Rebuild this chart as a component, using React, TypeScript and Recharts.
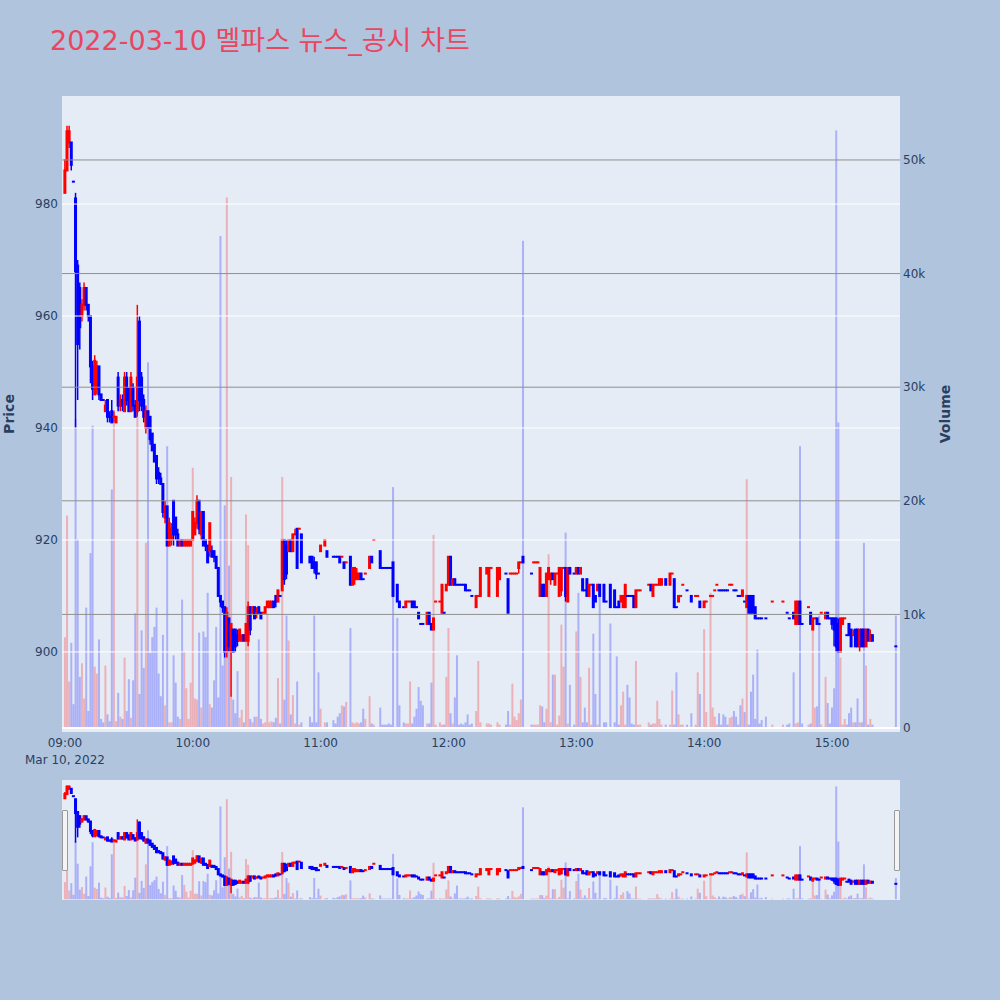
import React from 'react';
import { ComposedChart, Bar, XAxis, YAxis, ReferenceLine, Cell } from 'recharts';

// minutes after 09:00 (one candle per traded minute)
const minute = [
  0, 1, 2, 3, 4, 5, 6, 7, 8, 9,
  10, 11, 12, 13, 14, 15, 16, 17, 18, 19,
  20, 21, 22, 23, 24, 25, 26, 27, 28, 29,
  30, 31, 32, 33, 34, 35, 36, 37, 38, 39,
  40, 41, 42, 43, 44, 45, 46, 47, 48, 49,
  50, 51, 52, 53, 54, 55, 56, 57, 58, 59,
  60, 61, 62, 63, 64, 65, 66, 67, 68, 69,
  70, 71, 72, 73, 74, 75, 76, 77, 78, 79,
  80, 81, 82, 83, 84, 85, 86, 87, 88, 89,
  90, 91, 92, 93, 94, 95, 96, 97, 98, 99,
  100, 101, 102, 103, 104, 105, 106, 107, 108, 109,
  110, 111, 115, 116, 117, 118, 119, 120, 122, 123,
  126, 127, 128, 129, 130, 131, 132, 134, 135, 136,
  137, 138, 139, 140, 141, 143, 144, 145, 148, 149,
  150, 151, 152, 153, 154, 156, 157, 159, 160, 161,
  162, 163, 164, 165, 166, 167, 168, 170, 171, 172,
  173, 174, 176, 177, 178, 179, 180, 181, 182, 183,
  184, 185, 186, 187, 188, 189, 190, 191, 193, 194,
  195, 198, 199, 200, 203, 204, 207, 208, 209, 210,
  211, 212, 213, 214, 215, 219, 220, 221, 222, 223,
  224, 225, 226, 227, 228, 229, 230, 231, 232, 233,
  234, 235, 236, 237, 239, 240, 241, 242, 243, 244,
  245, 246, 247, 248, 249, 250, 251, 253, 254, 256,
  258, 259, 260, 261, 262, 263, 264, 265, 266, 267,
  268, 269, 270, 274, 275, 276, 277, 278, 279, 280,
  282, 284, 285, 286, 287, 288, 289, 290, 292, 294,
  296, 297, 298, 300, 301, 303, 304, 305, 306, 307,
  308, 309, 310, 311, 312, 313, 314, 315, 316, 317,
  318, 319, 320, 321, 322, 323, 324, 325, 326, 327,
  329, 332, 337, 339, 340, 342, 343, 344, 345, 346,
  349, 350, 351, 352, 353, 354, 355, 357, 358, 359,
  360, 361, 362, 363, 364, 365, 366, 367, 368, 369,
  370, 371, 372, 373, 374, 375, 376, 377, 378, 379, 390,
];

const open = [
  982, 986, 991, 991, 984, 981, 969, 965, 960, 962,
  965, 962, 960, 951, 946, 947, 951, 946, 945, 943,
  945, 942, 943, 942, 941, 949, 944, 945, 943, 949,
  947, 943, 947, 944, 943, 959, 949, 945, 940, 943,
  942, 939, 937, 935, 932, 931, 930, 924, 926, 919,
  920, 927, 924, 921, 919, 920, 919, 919, 919, 919,
  920, 921, 923, 927, 921, 925, 920, 919, 918, 918,
  918, 917, 915, 910, 909, 908, 900, 906, 900, 904,
  904, 903, 902, 902, 903, 902, 902, 908, 907, 908,
  907, 908, 907, 907, 907, 908, 908, 908, 909, 910,
  909, 910, 911, 920, 919, 918, 920, 918, 921, 922,
  922, 921, 917, 917, 916, 916, 914, 918, 919, 918,
  917, 917, 917, 917, 917, 916, 916, 917, 912, 913,
  913, 913, 914, 913, 914, 915, 917, 920, 918, 915,
  915, 915, 915, 915, 916, 912, 909, 908, 908, 909,
  909, 909, 909, 908, 907, 905, 905, 905, 907, 905,
  904, 909, 909, 907, 907, 911, 912, 917, 912, 913,
  912, 912, 912, 912, 912, 911, 911, 910, 908, 910,
  910, 914, 910, 915, 910, 913, 914, 913, 914, 914,
  914, 914, 915, 916, 917, 914, 916, 916, 916, 910,
  912, 912, 910, 913, 913, 914, 912, 914, 910, 911,
  915, 915, 909, 915, 914, 914, 915, 914, 913, 911,
  913, 910, 912, 912, 910, 911, 912, 912, 909, 912,
  911, 908, 909, 909, 908, 908, 910, 910, 910, 910,
  908, 911, 911, 912, 912, 910, 912, 912, 912, 912,
  913, 912, 914, 913, 908, 909, 910, 912, 911, 910,
  910, 910, 909, 908, 909, 910, 910, 911, 912, 911,
  911, 911, 911, 911, 912, 912, 911, 911, 910, 910,
  910, 909, 908, 910, 910, 910, 908, 906, 906, 906,
  906, 909, 909, 907, 906, 907, 905, 905, 909, 905,
  908, 907, 904, 906, 906, 905, 907, 906, 907, 906,
  906, 906, 906, 905, 900, 905, 906, 903, 905, 904,
  903, 904, 904, 901, 904, 904, 901, 904, 902, 903, 901,
];

const high = [
  988, 994, 994, 991, 984, 982, 970, 966, 963, 966,
  965, 962, 960, 952, 953, 952, 951, 946, 945, 945,
  945, 943, 945, 943, 942, 950, 946, 946, 950, 950,
  947, 950, 948, 945, 962, 960, 950, 946, 944, 943,
  942, 939, 937, 935, 933, 932, 930, 927, 926, 924,
  923, 927, 924, 922, 920, 920, 920, 920, 920, 920,
  925, 924, 928, 927, 925, 925, 920, 919, 923, 919,
  918, 917, 915, 910, 909, 908, 908, 906, 905, 904,
  904, 904, 904, 903, 903, 905, 909, 908, 908, 908,
  908, 908, 907, 907, 908, 909, 909, 909, 909, 910,
  911, 910, 920, 920, 920, 920, 920, 921, 922, 922,
  922, 921, 917, 917, 917, 916, 914, 919, 920, 918,
  917, 917, 917, 917, 917, 916, 916, 917, 915, 915,
  915, 914, 914, 913, 914, 917, 917, 920, 918, 915,
  915, 915, 915, 915, 916, 912, 909, 908, 909, 909,
  909, 909, 909, 908, 907, 905, 905, 907, 907, 905,
  906, 909, 909, 912, 907, 912, 917, 917, 913, 913,
  912, 912, 912, 912, 912, 911, 911, 910, 910, 910,
  915, 915, 915, 915, 915, 915, 914, 913, 914, 914,
  914, 914, 916, 916, 917, 914, 916, 916, 916, 915,
  912, 912, 914, 915, 914, 914, 914, 914, 915, 915,
  915, 915, 915, 915, 914, 915, 915, 915, 913, 911,
  913, 912, 912, 912, 910, 912, 912, 912, 909, 912,
  911, 908, 909, 910, 910, 912, 910, 910, 910, 910,
  911, 911, 911, 912, 912, 912, 912, 912, 913, 913,
  913, 914, 914, 913, 908, 910, 910, 912, 911, 910,
  910, 910, 909, 909, 909, 910, 910, 911, 912, 911,
  911, 911, 911, 911, 912, 912, 911, 911, 910, 910,
  911, 909, 910, 910, 910, 910, 908, 906, 906, 906,
  906, 909, 909, 907, 906, 907, 909, 909, 909, 905,
  908, 907, 906, 906, 906, 905, 907, 907, 907, 906,
  906, 906, 906, 906, 906, 906, 906, 903, 905, 904,
  904, 904, 904, 904, 904, 904, 904, 904, 904, 903, 901,
];

const low = [
  982, 986, 990, 986, 984, 940, 945, 954, 959, 961,
  961, 959, 948, 945, 946, 946, 945, 945, 945, 943,
  941, 941, 941, 941, 941, 943, 943, 943, 943, 944,
  943, 943, 943, 942, 942, 943, 943, 941, 939, 940,
  937, 936, 934, 930, 930, 930, 924, 923, 919, 919,
  919, 919, 920, 919, 919, 919, 919, 919, 919, 919,
  920, 921, 922, 921, 920, 919, 918, 916, 917, 917,
  916, 915, 910, 908, 907, 899, 899, 900, 892, 900,
  900, 901, 902, 902, 902, 902, 901, 903, 907, 906,
  906, 907, 906, 907, 907, 908, 908, 908, 908, 908,
  909, 910, 911, 912, 913, 918, 918, 918, 921, 915,
  922, 916, 916, 915, 914, 913, 914, 918, 919, 917,
  917, 917, 917, 916, 917, 915, 916, 912, 912, 912,
  913, 913, 913, 913, 914, 915, 916, 920, 915, 915,
  915, 915, 915, 915, 910, 909, 908, 908, 908, 909,
  909, 908, 908, 908, 906, 905, 905, 905, 905, 904,
  904, 909, 909, 907, 907, 911, 912, 912, 912, 912,
  912, 912, 912, 912, 911, 911, 911, 910, 908, 910,
  910, 914, 910, 915, 910, 913, 914, 907, 914, 914,
  914, 914, 914, 916, 916, 914, 916, 916, 916, 910,
  910, 910, 910, 913, 912, 913, 912, 914, 910, 910,
  915, 909, 909, 914, 914, 914, 914, 914, 911, 911,
  910, 910, 912, 908, 909, 911, 910, 909, 909, 908,
  908, 908, 908, 909, 908, 908, 910, 910, 910, 908,
  908, 911, 911, 912, 911, 910, 912, 912, 912, 912,
  912, 912, 914, 908, 908, 909, 910, 912, 911, 909,
  910, 910, 908, 908, 909, 910, 910, 911, 912, 911,
  911, 911, 911, 911, 912, 912, 911, 911, 910, 910,
  910, 909, 908, 907, 907, 907, 906, 906, 906, 906,
  906, 909, 909, 907, 906, 906, 905, 905, 905, 905,
  908, 905, 904, 906, 905, 905, 907, 906, 906, 906,
  904, 901, 900, 900, 900, 905, 906, 903, 903, 901,
  903, 901, 901, 900, 901, 901, 901, 902, 902, 902, 901,
];

const close = [
  986, 993, 993, 987, 984, 968, 955, 958, 962, 965,
  962, 960, 951, 947, 952, 951, 946, 945, 945, 944,
  942, 942, 941, 942, 942, 944, 945, 944, 949, 945,
  943, 949, 944, 942, 949, 945, 944, 942, 943, 940,
  938, 936, 934, 931, 931, 930, 925, 926, 919, 923,
  922, 921, 921, 919, 920, 919, 920, 920, 920, 920,
  925, 923, 927, 922, 925, 919, 919, 916, 923, 917,
  917, 915, 910, 909, 908, 900, 907, 901, 905, 900,
  901, 902, 904, 903, 902, 905, 908, 904, 908, 906,
  907, 907, 906, 907, 908, 909, 909, 909, 908, 909,
  911, 910, 920, 913, 914, 920, 918, 921, 921, 915,
  922, 916, 916, 915, 915, 914, 914, 919, 920, 917,
  917, 917, 917, 916, 917, 915, 916, 912, 915, 915,
  914, 914, 913, 913, 914, 917, 916, 920, 915, 915,
  915, 915, 915, 915, 910, 909, 908, 908, 909, 909,
  909, 908, 908, 908, 906, 905, 905, 907, 905, 904,
  906, 909, 909, 912, 907, 912, 917, 912, 913, 912,
  912, 912, 912, 912, 911, 911, 911, 910, 910, 910,
  915, 915, 915, 915, 915, 915, 914, 907, 914, 914,
  914, 914, 916, 916, 916, 914, 916, 916, 916, 915,
  910, 910, 914, 915, 914, 913, 914, 914, 915, 915,
  915, 910, 915, 914, 914, 915, 914, 915, 911, 911,
  910, 912, 912, 908, 909, 912, 910, 909, 909, 908,
  908, 908, 908, 910, 910, 912, 910, 910, 910, 908,
  911, 911, 911, 912, 911, 912, 912, 912, 913, 913,
  912, 914, 914, 908, 908, 910, 910, 912, 911, 909,
  910, 910, 908, 909, 909, 910, 910, 911, 912, 911,
  911, 911, 911, 911, 912, 912, 911, 911, 910, 910,
  911, 909, 910, 907, 907, 907, 906, 906, 906, 906,
  906, 909, 909, 907, 906, 906, 909, 909, 905, 905,
  908, 905, 906, 906, 905, 905, 907, 907, 906, 906,
  905, 904, 901, 900, 906, 906, 906, 903, 903, 901,
  903, 901, 901, 904, 901, 901, 904, 902, 903, 902, 901,
];

const volume = [
  8000, 18700, 4100, 7500, 2100, 27200, 16600, 4500, 5700, 2600,
  10600, 1500, 15400, 26600, 5400, 4800, 7800, 800, 500, 5500,
  1200, 600, 21000, 28000, 600, 3100, 1000, 800, 6200, 1500,
  4300, 900, 4200, 10100, 27400, 3000, 8600, 5300, 16300, 32200,
  6600, 8000, 8900, 10600, 4800, 2800, 8200, 2000, 24800, 500,
  500, 6400, 4000, 1000, 800, 11300, 6700, 3500, 800, 4000,
  22900, 2600, 2500, 8400, 1800, 8500, 8000, 11900, 2100, 1800,
  4200, 8900, 2700, 43300, 5500, 19600, 46700, 14300, 22100, 2500,
  1300, 5000, 900, 1600, 500, 18800, 16100, 800, 500, 1000,
  1000, 7800, 800, 400, 500, 10100, 500, 600, 500, 900,
  4400, 400, 22100, 2500, 9900, 7700, 1200, 2900, 400, 4100,
  300, 500, 1000, 500, 9900, 500, 4900, 1700, 500, 500,
  700, 400, 1000, 1300, 2000, 1900, 2300, 8800, 500, 400,
  500, 400, 500, 1700, 800, 2800, 400, 300, 1800, 300,
  300, 300, 400, 300, 21200, 9700, 2000, 500, 400, 400,
  4100, 400, 1000, 1700, 3600, 2400, 2000, 400, 400, 4000,
  17000, 300, 500, 300, 300, 4500, 8800, 1300, 400, 2700,
  6400, 300, 400, 300, 500, 1200, 300, 400, 1500, 5900,
  500, 400, 400, 300, 500, 300, 300, 1500, 300, 3900,
  1000, 700, 1300, 2500, 42900, 300, 300, 300, 300, 2000,
  1900, 500, 1700, 15300, 500, 4700, 4700, 300, 1100, 9100,
  5400, 17200, 400, 3800, 300, 8500, 11900, 4500, 500, 1800,
  500, 5300, 300, 8300, 3000, 300, 11600, 500, 500, 9200,
  500, 6300, 300, 2000, 3200, 300, 3800, 2700, 400, 300,
  5900, 300, 300, 500, 300, 400, 400, 2400, 800, 300,
  300, 300, 3300, 300, 4900, 1200, 300, 300, 300, 1300,
  300, 4900, 3000, 8700, 1400, 11900, 1800, 1000, 300, 1300,
  300, 1200, 1000, 300, 900, 1000, 1500, 1000, 300, 2000,
  2600, 1400, 21900, 300, 3200, 4700, 800, 6900, 400, 700,
  1000, 300, 300, 300, 400, 4900, 400, 500, 24800, 400,
  300, 400, 9500, 1800, 1900, 9900, 300, 4500, 2200, 400,
  1800, 3500, 52600, 26900, 6200, 300, 800, 300, 1300, 1800,
  500, 500, 2600, 500, 500, 16300, 5500, 300, 800, 300, 9900,
];

const timeTicks = [0, 60, 120, 180, 240, 300, 360];
const timeLabels = ['09:00', '10:00', '11:00', '12:00', '13:00', '14:00', '15:00'];
const priceTicks = [900, 920, 940, 960, 980];
const volumeTicks = [0, 10000, 20000, 30000, 40000, 50000];

const UP = '#ff0000';
const DOWN = '#0000ff';
const FONT = '"DejaVu Sans", "Noto Sans CJK KR", sans-serif';
const TICK = '#2a3f5f';
const X_DOMAIN: [number, number] = [-1.4, 391.9];
const PRICE_DOMAIN: [number, number] = [885.7, 999.3];
const VOL_DOMAIN: [number, number] = [-350, 55630];

let prevUp = true;
const rows = minute.map((t, i) => {
  const o = open[i];
  const c = close[i];
  let up = prevUp;
  if (c > o) up = true;
  else if (c < o) up = false;
  else if (i > 0 && c > close[i - 1]) up = true;
  else if (i > 0 && c < close[i - 1]) up = false;
  prevUp = up;
  return { t, o, h: high[i], l: low[i], c, v: volume[i], up };
});

const Candle = (props: any) => {
  const { x, y, width, height, payload } = props;
  if (x == null || y == null || !payload) return null;
  const top = Math.min(y, y + height);
  const span = Math.abs(height);
  const { o, h, l, c, up } = payload;
  const range = h - l;
  const toY = (v: number) => (range === 0 ? top : top + ((h - v) / range) * span);
  const cx = x + width / 2;
  const col = up ? UP : DOWN;
  const bTop = toY(Math.max(o, c));
  const bBot = toY(Math.min(o, c));
  return (
    <g>
      {span > 0 && <line x1={cx} x2={cx} y1={top} y2={top + span} stroke={col} strokeWidth={1.5} />}
      <rect x={cx - 1.5} y={bTop - 1} width={3} height={bBot - bTop + 2} fill={col} />
    </g>
  );
};

const TimeTick = (props: any) => {
  const { x, y, payload } = props;
  const idx = timeTicks.indexOf(payload.value);
  return (
    <g>
      <text x={x} y={y + 13} textAnchor="middle" fill={TICK} fontSize={12} fontFamily={FONT}>
        {timeLabels[idx]}
      </text>
      {idx === 0 && (
        <text x={x} y={y + 30} textAnchor="middle" fill={TICK} fontSize={12} fontFamily={FONT}>
          Mar 10, 2022
        </text>
      )}
    </g>
  );
};

const volFmt = (v: number) => (v === 0 ? '0' : `${v / 1000}k`);

const App = () => {
  return (
    <div style={{ position: 'absolute', left: 0, top: 0, width: 1000, height: 1000, background: '#B0C4DE', fontFamily: FONT }}>
      <div style={{ position: 'absolute', left: 62, top: 96, width: 838, height: 636, background: '#E5ECF6' }} />
      <div style={{ position: 'absolute', left: 62, top: 780, width: 838, height: 120, background: '#E5ECF6' }} />

      <ComposedChart
        width={1000}
        height={800}
        data={rows}
        margin={{ top: 96, right: 50, bottom: 38, left: 22 }}
        style={{ position: 'absolute', left: 0, top: 0 }}
      >
        <XAxis
          xAxisId="t"
          dataKey="t"
          type="number"
          domain={X_DOMAIN}
          allowDataOverflow
          ticks={timeTicks}
          tick={<TimeTick />}
          tickLine={false}
          axisLine={false}
          tickSize={0}
          height={30}
        />
        <XAxis xAxisId="tv" dataKey="t" type="number" domain={X_DOMAIN} allowDataOverflow hide />
        <YAxis
          yAxisId="price"
          domain={PRICE_DOMAIN}
          allowDataOverflow
          ticks={priceTicks}
          tickLine={false}
          axisLine={false}
          tickSize={0}
          tickMargin={4}
          width={40}
          tick={{ fill: TICK, fontSize: 12, fontFamily: FONT }}
        />
        <YAxis
          yAxisId="vol"
          orientation="right"
          domain={VOL_DOMAIN}
          allowDataOverflow
          ticks={volumeTicks}
          tickFormatter={volFmt}
          tickLine={false}
          axisLine={false}
          tickSize={0}
          tickMargin={3}
          width={50}
          tick={{ fill: TICK, fontSize: 12, fontFamily: FONT, textAnchor: 'start' }}
        />
        {priceTicks.map((p) => (
          <ReferenceLine key={`p${p}`} xAxisId="t" yAxisId="price" y={p} stroke="#ffffff" strokeWidth={1} />
        ))}
        {volumeTicks.slice(1).map((v) => (
          <ReferenceLine key={`v${v}`} xAxisId="t" yAxisId="vol" y={v} stroke="#8f8f8f" strokeWidth={1} />
        ))}
        <ReferenceLine xAxisId="t" yAxisId="vol" y={0} stroke="#ffffff" strokeWidth={2} />
        <Bar xAxisId="tv" yAxisId="vol" dataKey="v" barSize={2} fillOpacity={0.25} isAnimationActive={false}>
          {rows.map((r, i) => (
            <Cell key={i} fill={r.up ? UP : DOWN} />
          ))}
        </Bar>
        <Bar
          xAxisId="t"
          yAxisId="price"
          dataKey={(d: any) => [d.l, d.h]}
          barSize={3}
          shape={<Candle />}
          isAnimationActive={false}
        />
      </ComposedChart>

      <ComposedChart
        width={838}
        height={120}
        data={rows}
        margin={{ top: 0, right: 0, bottom: 0, left: 0 }}
        style={{ position: 'absolute', left: 62, top: 780 }}
      >
        <XAxis xAxisId="t" dataKey="t" type="number" domain={X_DOMAIN} allowDataOverflow hide />
        <XAxis xAxisId="tv" dataKey="t" type="number" domain={X_DOMAIN} allowDataOverflow hide />
        <YAxis yAxisId="price" domain={PRICE_DOMAIN} allowDataOverflow hide />
        <YAxis yAxisId="vol" domain={VOL_DOMAIN} allowDataOverflow hide />
        <Bar xAxisId="tv" yAxisId="vol" dataKey="v" barSize={2} fillOpacity={0.25} isAnimationActive={false}>
          {rows.map((r, i) => (
            <Cell key={i} fill={r.up ? UP : DOWN} />
          ))}
        </Bar>
        <Bar
          xAxisId="t"
          yAxisId="price"
          dataKey={(d: any) => [d.l, d.h]}
          barSize={3}
          shape={<Candle />}
          isAnimationActive={false}
        />
      </ComposedChart>

      <div style={{ position: 'absolute', left: 62, top: 810, width: 4, height: 59, background: '#f4f4f4', border: '1px solid #9a9a9a', borderRadius: 1 }} />
      <div style={{ position: 'absolute', left: 894, top: 810, width: 4, height: 59, background: '#f4f4f4', border: '1px solid #9a9a9a', borderRadius: 1 }} />

      <svg width={1000} height={1000} style={{ position: 'absolute', left: 0, top: 0, pointerEvents: 'none' }}>
        <text x={50} y={50} fill="#E8475F" fontSize={27} fontFamily={FONT}>
          2022-03-10 멜파스 뉴스_공시 차트
        </text>
        <text x={14} y={414} transform="rotate(-90 14 414)" textAnchor="middle" fill={TICK} fontSize={14} fontWeight="bold" fontFamily={FONT}>
          Price
        </text>
        <text x={950} y={414} transform="rotate(-90 950 414)" textAnchor="middle" fill={TICK} fontSize={14} fontWeight="bold" fontFamily={FONT}>
          Volume
        </text>
      </svg>
    </div>
  );
};

export default App;
